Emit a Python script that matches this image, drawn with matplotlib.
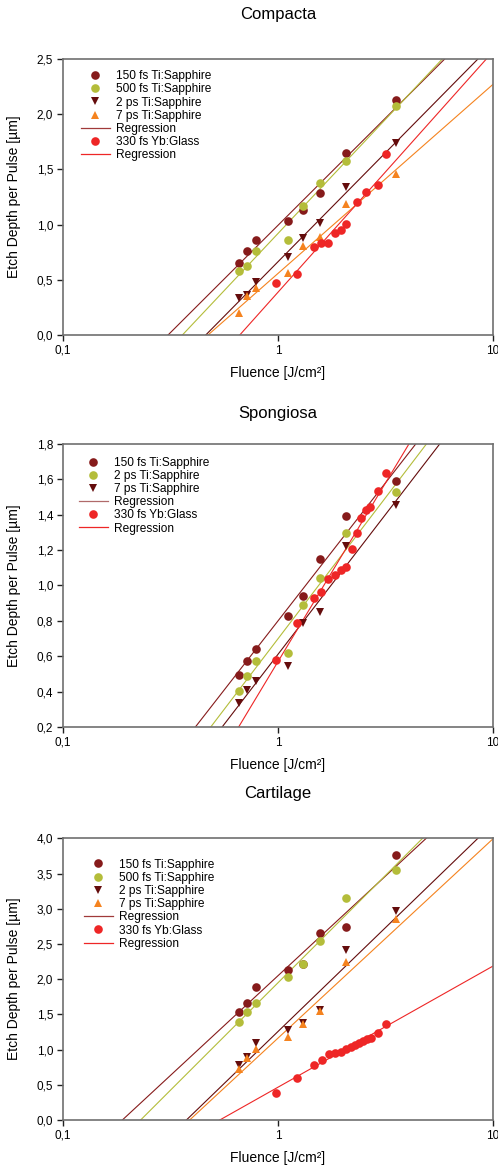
import numpy as np
import matplotlib
matplotlib.use("Agg")
import matplotlib.pyplot as plt
from matplotlib.lines import Line2D
from matplotlib.ticker import FixedLocator, FuncFormatter, NullLocator

plt.rcParams["font.family"] = ["Liberation Sans", "DejaVu Sans"]

C150 = "#861b1b"
C500 = "#b4bd3a"
C2PS = "#640c0c"
C7PS = "#f5831f"
CYB = "#ee2626"
CREG = "#a03a3a"

# ---- Compacta ----
comp_x = [0.66, 0.72, 0.79, 1.11, 1.31, 1.57, 2.08, 3.53]
comp_150 = [0.655, 0.764, 0.861, 1.033, 1.132, 1.289, 1.646, 2.129]
comp_500 = [0.58, 0.628, 0.761, 0.861, 1.168, 1.374, 1.573, 2.074]
comp_2ps = [0.332, 0.362, 0.477, 0.710, 0.882, 1.014, 1.344, 1.736]
comp_7ps = [0.196, 0.353, 0.429, 0.559, 0.806, 0.891, 1.187, 1.458]
comp_yb_x = [0.975, 1.22, 1.465, 1.59, 1.708, 1.835, 1.956, 2.08, 2.32, 2.56, 2.93, 3.18]
comp_yb = [0.474, 0.553, 0.797, 0.836, 0.836, 0.924, 0.951, 1.008, 1.205, 1.295, 1.359, 1.636]
# regression y = a + b*log10(F)
comp_reg = {"150": (0.994, 1.943), "500": (0.920, 2.068), "2ps": (0.664, 1.975),
            "7ps": (0.558, 1.713), "yb": (0.388, 2.18)}

# ---- Spongiosa ----
spon_x = [0.66, 0.72, 0.79, 1.11, 1.31, 1.57, 2.08, 3.53]
spon_150 = [0.496, 0.572, 0.643, 0.828, 0.940, 1.147, 1.392, 1.591]
spon_2ps = [0.402, 0.487, 0.572, 0.621, 0.892, 1.040, 1.296, 1.530]
spon_7ps = [0.336, 0.408, 0.460, 0.545, 0.789, 0.851, 1.223, 1.453]
spon_yb_x = [0.975, 1.22, 1.465, 1.59, 1.708, 1.835, 1.956, 2.08, 2.20, 2.32, 2.44,
             2.56, 2.69, 2.93, 3.18]
spon_yb = [0.577, 0.789, 0.930, 0.964, 1.036, 1.058, 1.087, 1.106, 1.209, 1.294, 1.383,
           1.425, 1.441, 1.534, 1.634]
spon_reg = {"150": (0.800, 1.561), "2ps": (0.699, 1.595), "7ps": (0.611, 1.581),
            "yb": (0.570, 2.02)}

# ---- Cartilage ----
cart_x = [0.66, 0.72, 0.79, 1.11, 1.31, 1.57, 2.08, 3.53]
cart_150 = [1.538, 1.657, 1.893, 2.130, 2.211, 2.660, 2.741, 3.763]
cart_500 = [1.387, 1.538, 1.657, 2.031, 2.211, 2.547, 3.148, 3.546]
cart_2ps = [0.781, 0.899, 1.089, 1.278, 1.373, 1.562, 2.414, 2.968]
cart_7ps = [0.720, 0.876, 1.008, 1.174, 1.359, 1.548, 2.249, 2.854]
cart_yb_x = [0.975, 1.23, 1.47, 1.60, 1.73, 1.84, 1.96, 2.07, 2.18, 2.28, 2.38, 2.49,
             2.59, 2.70, 2.93, 3.18]
cart_yb = [0.383, 0.601, 0.781, 0.852, 0.933, 0.947, 0.970, 1.004, 1.032, 1.065, 1.089,
           1.117, 1.146, 1.169, 1.240, 1.359]
cart_reg = {"150": (2.049, 2.83), "500": (1.949, 3.05), "2ps": (1.257, 2.95),
            "7ps": (1.163, 2.83), "yb": (0.466, 1.72)}

LINE_COLORS = {"150": C150, "500": C500, "2ps": C2PS, "7ps": C7PS, "yb": CYB}


def fmt_comma(v, _pos):
    s = f"{v:.1f}"
    return s.replace(".", ",")


def fmt_x(v, _pos):
    return {0.1: "0,1", 1: "1", 10: "10"}.get(round(v, 3), "")


def setup_axes(ax, ymin, ymax, step, title, title_pad):
    ax.set_xscale("log")
    ax.set_xlim(0.1, 10)
    ax.set_ylim(ymin, ymax)
    ax.xaxis.set_major_locator(FixedLocator([0.1, 1, 10]))
    ax.xaxis.set_minor_locator(NullLocator())
    ax.xaxis.set_major_formatter(FuncFormatter(fmt_x))
    ax.yaxis.set_major_locator(FixedLocator(np.arange(ymin, ymax + step / 2, step)))
    ax.yaxis.set_major_formatter(FuncFormatter(fmt_comma))
    for sp in ax.spines.values():
        sp.set_color("#707070")
        sp.set_linewidth(1.2)
    ax.tick_params(direction="out", length=4, width=1, color="#202020",
                   labelsize=8.5, pad=3)
    ax.set_xlabel("Fluence [J/cm²]", fontsize=10, labelpad=7)
    ax.set_ylabel("Etch Depth per Pulse [µm]", fontsize=10, labelpad=11)
    ax.set_title(title, fontsize=12, pad=title_pad)


def reg_line(ax, color, params):
    a, b = params
    xs = np.logspace(-1, 1, 300)
    ax.plot(xs, a + b * np.log10(xs), color=color, lw=0.8, zorder=2)


def pts(ax, x, y, color, marker, ms=6.2):
    return ax.plot(x, y, linestyle="none", marker=marker, color=color,
                   markersize=ms, markeredgewidth=0, zorder=3)[0]


def legend(ax, handles, labels, anchor):
    ax.legend(handles, labels, loc="upper left", frameon=False, fontsize=8.6,
              handlelength=2.4, handletextpad=0.5, labelspacing=0.1,
              borderaxespad=0.0, bbox_to_anchor=anchor)


fig = plt.figure(figsize=(4.98, 11.69), dpi=100)
ax1 = fig.add_axes([0.1265, 0.7134, 0.8635, 0.2361])
ax2 = fig.add_axes([0.1265, 0.3781, 0.8635, 0.2421])
ax3 = fig.add_axes([0.1265, 0.0419, 0.8635, 0.2410])

# Compacta
setup_axes(ax1, 0.0, 2.5, 0.5, "Compacta", 29)
for k in ["150", "500", "2ps", "7ps", "yb"]:
    reg_line(ax1, LINE_COLORS[k], comp_reg[k])
h1 = pts(ax1, comp_x, comp_150, C150, "o")
h2 = pts(ax1, comp_x, comp_500, C500, "o")
h3 = pts(ax1, comp_x, comp_2ps, C2PS, "v")
h4 = pts(ax1, comp_x, comp_7ps, C7PS, "^")
h5 = pts(ax1, comp_yb_x, comp_yb, CYB, "o")
legend(ax1, [h1, h2, h3, h4, Line2D([], [], color=CREG, lw=0.9), h5,
             Line2D([], [], color=CYB, lw=0.9)],
       ["150 fs Ti:Sapphire", "500 fs Ti:Sapphire", "2 ps Ti:Sapphire",
        "7 ps Ti:Sapphire", "Regression", "330 fs Yb:Glass", "Regression"],
       (0.031, 0.977))

# Spongiosa
setup_axes(ax2, 0.2, 1.8, 0.2, "Spongiosa", 19)
spon_colors = {"150": C150, "2ps": C500, "7ps": C2PS, "yb": CYB}
for k in ["150", "2ps", "7ps", "yb"]:
    reg_line(ax2, spon_colors[k], spon_reg[k])
g1 = pts(ax2, spon_x, spon_150, C150, "o")
g2 = pts(ax2, spon_x, spon_2ps, C500, "o")
g3 = pts(ax2, spon_x, spon_7ps, C2PS, "v")
g4 = pts(ax2, spon_yb_x, spon_yb, CYB, "o")
legend(ax2, [g1, g2, g3, Line2D([], [], color="#b06a6a", lw=0.9), g4,
             Line2D([], [], color=CYB, lw=0.9)],
       ["150 fs Ti:Sapphire", "2 ps Ti:Sapphire", "7 ps Ti:Sapphire", "Regression",
        "330 fs Yb:Glass", "Regression"],
       (0.026, 0.972))

# Cartilage
setup_axes(ax3, 0.0, 4.0, 0.5, "Cartilage", 29)
for k in ["150", "500", "2ps", "7ps", "yb"]:
    reg_line(ax3, LINE_COLORS[k], cart_reg[k])
k1 = pts(ax3, cart_x, cart_150, C150, "o")
k2 = pts(ax3, cart_x, cart_500, C500, "o")
k3 = pts(ax3, cart_x, cart_2ps, C2PS, "v")
k4 = pts(ax3, cart_x, cart_7ps, C7PS, "^")
k5 = pts(ax3, cart_yb_x, cart_yb, CYB, "o")
legend(ax3, [k1, k2, k3, k4, Line2D([], [], color=CREG, lw=0.9), k5,
             Line2D([], [], color=CYB, lw=0.9)],
       ["150 fs Ti:Sapphire", "500 fs Ti:Sapphire", "2 ps Ti:Sapphire",
        "7 ps Ti:Sapphire", "Regression", "330 fs Yb:Glass", "Regression"],
       (0.038, 0.945))

fig.savefig("out.png", dpi=100)
